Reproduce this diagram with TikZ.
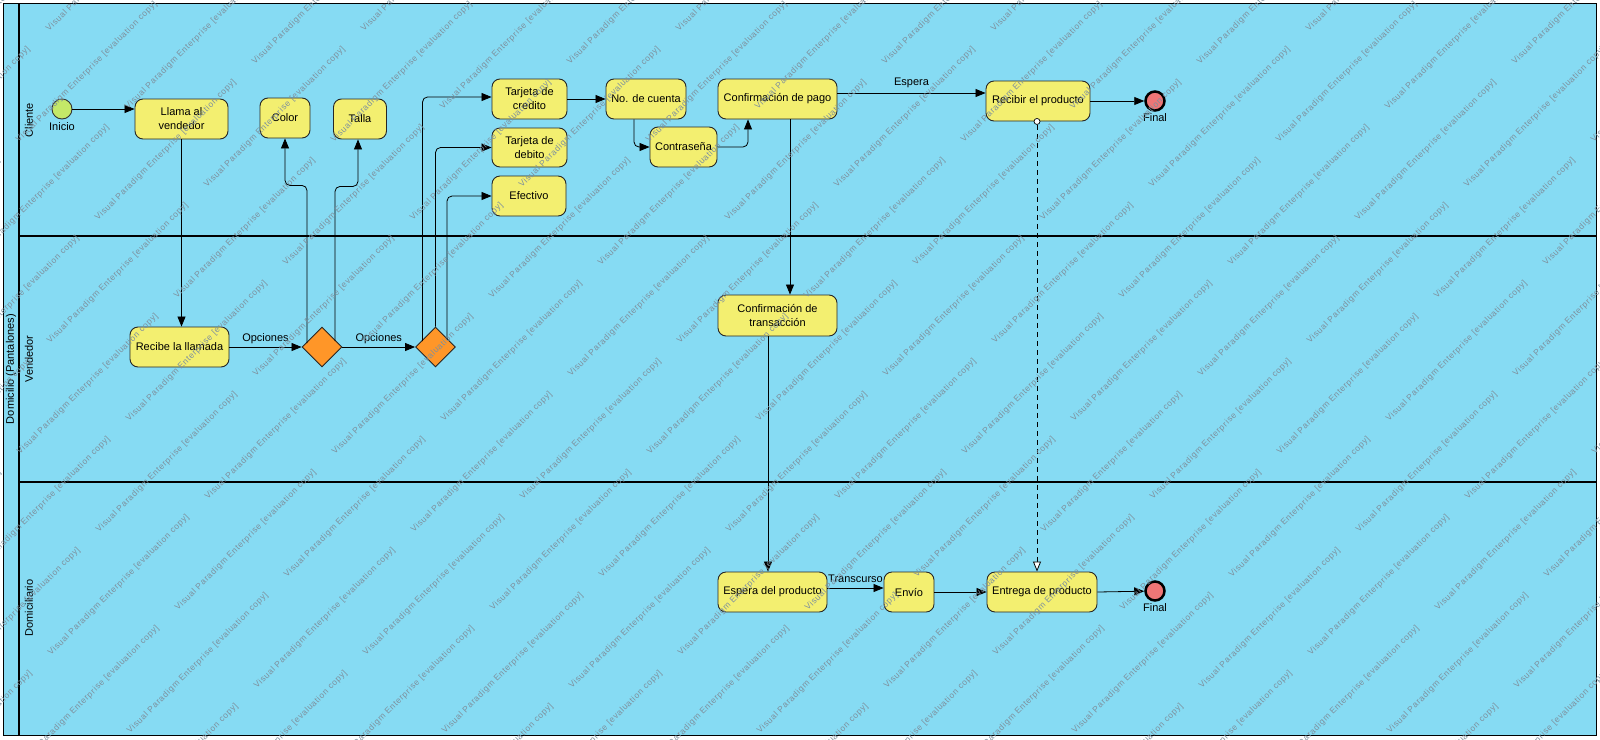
\documentclass[tikz,border=0pt]{standalone}
\usepackage{fontspec}
\setmainfont{Liberation Sans}
\newfontfamily\wmfont[LetterSpace=8]{Liberation Sans}
\usetikzlibrary{shapes.geometric,arrows.meta,calc}

\definecolor{lanebg}{RGB}{134,219,243}
\definecolor{actfill}{RGB}{243,239,112}
\definecolor{startfill}{RGB}{196,232,104}
\definecolor{endfill}{RGB}{238,118,118}
\definecolor{gatefill}{RGB}{255,150,40}
\definecolor{wmark}{RGB}{126,144,157}

% one watermark string, placed only when some of it falls on the page
\newcommand{\wmstring}[2]{%
  \pgfmathtruncatemacro{\wmok}{and(and(#1>-140,#1<1600),and(#2>0,#2<880))}%
  \ifnum\wmok=1
    \node[wm] at (#1,#2) {Visual Paradigm Enterprise [evaluation copy]};%
  \fi}

\begin{document}
\begin{tikzpicture}[x=1pt,y=-1pt,
  every node/.style={font=\fontsize{11}{14}\selectfont, inner sep=0pt},
  act/.style={draw=black!85, fill=actfill, rounded corners=8pt, line width=0.9pt,
    align=center, minimum height=40pt},
  startev/.style={circle, draw=black!80, fill=startfill, line width=0.9pt, minimum size=20pt},
  endev/.style={circle, draw=black, fill=endfill, line width=2.5pt, minimum size=19pt},
  gate/.style={diamond, draw=black!85, fill=gatefill, line width=0.9pt, minimum size=40pt, aspect=1},
  port/.style={circle, draw=black, fill=white, line width=0.7pt, minimum size=6pt},
  flow/.style={-{Triangle[length=10pt,width=8pt]}, line width=0.8pt, rounded corners=5pt},
  dep/.style={dash pattern=on 5pt off 4pt, line width=0.8pt,
    -{Triangle[fill=white,length=10pt,width=8pt]}},
  lanelabel/.style={rotate=90, anchor=center},
  wm/.style={rotate=45, anchor=base west, text=wmark, font=\wmfont\fontsize{8.5}{8.5}\selectfont},
]
\useasboundingbox (0,0) rectangle (1600,739);

% pool and lanes
\fill[white] (0,0) rectangle (1600,739);
\fill[lanebg] (3,3) rectangle (1596,735);
\draw[line width=1pt] (3,3) rectangle (1596,735);
\draw[line width=1.6pt] (19,3) -- (19,735);
\draw[line width=1.3pt] (19,236) -- (1596,236);
\draw[line width=1.3pt] (19,482) -- (1596,482);

\node[lanelabel] (pool) at (11,369) {Domicilio (Pantalones)};
\node[lanelabel] (lane1) at (29,120) {Cliente};
\node[lanelabel] (lane2) at (29,359) {Vendedor};
\node[lanelabel] (lane3) at (29,608) {Domiciliario};

% Cliente
\node[startev, label={[label distance=3pt]below:Inicio}] (start) at (62,109) {};
\node[act, minimum width=93pt] (llama) at (181.5,119) {Llama al\\vendedor};
\node[act, minimum width=50pt] (color) at (285,118) {Color};
\node[act, minimum width=53pt] (talla) at (360,119) {Talla};
\node[act, minimum width=75pt] (tc) at (529.5,99) {Tarjeta de\\credito};
\node[act, minimum width=75pt, minimum height=39pt] (td) at (529.5,147.5) {Tarjeta de\\debito};
\node[act, minimum width=74pt] (ef) at (529,196) {Efectivo};
\node[act, minimum width=80pt] (nc) at (646,99) {No. de cuenta};
\node[act, minimum width=67pt] (cs) at (683.5,147) {Contraseña};
\node[act, minimum width=119pt] (cp) at (777.5,99) {Confirmación de pago};
\node[act, minimum width=104pt] (rp) at (1038,101) {Recibir el producto};
\node[endev, label={[label distance=1.5pt]below:Final}] (fin1) at (1155,101) {};

% Vendedor
\node[act, minimum width=99pt] (rl) at (179.5,347) {Recibe la llamada};
\node[gate] (d1) at (322,347) {};
\node[gate] (d2) at (435.5,347) {};
\node[act, minimum width=119pt, minimum height=41pt] (ct) at (777.5,315.5) {Confirmación de\\transacción};

% Domiciliario
\node[act, minimum width=109pt] (ep) at (772.5,592) {Espera del producto};
\node[act, minimum width=50pt] (en) at (909,592) {Envío};
\node[act, minimum width=110pt] (eg) at (1042,592) {Entrega de producto};
\node[endev, label={[label distance=1.5pt]below:Final}] (fin2) at (1155,591) {};

% flows
\draw[flow] (start) -- (start -| llama.west);
\draw[flow] (llama.south) -- (llama.south |- rl.north);
\draw[flow] (rl) -- node[above=3pt]{Opciones} (d1);
\draw[flow] (d1) -- node[above=3pt]{Opciones} (d2);
\draw[flow] ($(d1.center)+(-15,-4)$) |- ($(color.south)+(0,47)$) -- (color.south);
\draw[flow] ($(d1.center)+(13,-6)$) |- ($(talla.south)+(-2,47)$) -- ($(talla.south)+(-2,0)$);
\draw[flow] ($(d2.center)+(-13,-6)$) |- ($(tc.west)+(0,-2)$);
\draw[flow] (d2.north) |- (td.west);
\draw[flow] ($(d2.center)+(11.5,-7.5)$) |- (ef.west);
\draw[flow] (tc.east) -- (nc.west);
\draw[flow] ($(nc.south)+(-12,0)$) |- (cs.west);
\draw[flow] (cs.east) -| ($(cp.south)+(-29.5,0)$);
\draw[flow] ($(cp.east)+(0,-6)$) -- node[above=5pt]{Espera} ($(rp.west)+(0,-8)$);
\draw[flow] (rp.east) -- (fin1);
\draw[flow] ($(cp.south)+(12.5,0)$) -- ($(ct.north)+(12.5,0)$);
\draw[flow] ($(ct.south)+(-9.5,0)$) -- ($(ep.north)+(-4.5,0)$);
\draw[flow] ($(ep.east)+(0,-4)$) -- node[above=5pt]{Transcurso} ($(en.west)+(0,-4)$);
\draw[flow] (en.east) -- (eg.west);
\draw[flow] (eg.east) -- (fin2);
\node[port] (hole) at ($(rp.south)+(-1,0)$) {};
\draw[dep] (hole.south) -- ($(eg.north)+(-5,0)$);

% evaluation watermark
\begin{scope}
\clip (0,0) rectangle (1600,739);
\foreach \i in {-4,...,6}{
  \foreach \j in {-7,...,5}{
    \pgfmathsetmacro{\ax}{523+315*\i+79*\j}%
    \pgfmathsetmacro{\ay}{500+78*\j}%
    \pgfmathsetmacro{\bx}{650+315*\i+79*\j}%
    \pgfmathsetmacro{\by}{455+78*\j}%
    \wmstring{\ax}{\ay}
    \wmstring{\bx}{\by}
  }
}
\end{scope}
\end{tikzpicture}
\end{document}
